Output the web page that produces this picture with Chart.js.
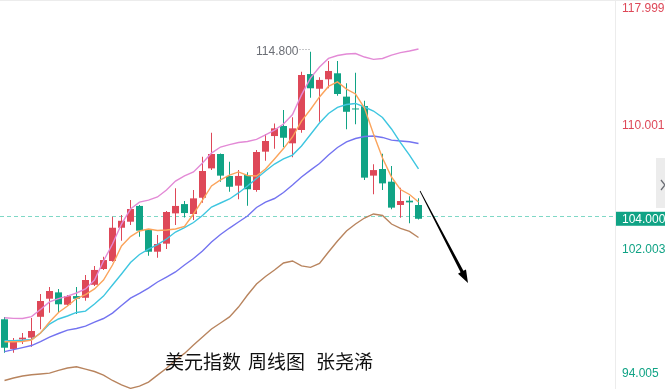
<!DOCTYPE html>
<html>
<head>
<meta charset="utf-8">
<script src="https://cdn.jsdelivr.net/npm/chart.js@4.4.1/dist/chart.umd.min.js"></script>
<style>
  html, body { margin: 0; padding: 0; background: #fff; }
  #wrap { width: 665px; height: 389px; }
</style>
</head>
<body>
<div id="wrap"><canvas id="chart" width="665" height="389"></canvas></div>
<script>
// weekly candles (oldest -> newest)
const opens = [97.50, 95.58, 96.20, 96.31, 97.66, 98.83, 99.24, 98.44, 99.00, 98.89,
  99.73, 100.75, 101.27, 103.42, 103.81, 104.83, 103.27, 101.87, 102.39, 104.35,
  104.95, 104.31, 105.36, 107.26, 108.19, 106.77, 106.14, 106.83, 105.86, 108.34,
  109.35, 110.00, 108.88, 109.74, 113.36, 112.41, 113.02, 113.41, 111.90, 111.13,
  111.29, 106.79, 107.22, 106.40, 104.89, 105.17, 104.89];
const highs = [97.65, 96.29, 96.61, 97.58, 99.13, 99.59, 99.46, 99.07, 99.59, 100.36,
  100.94, 101.55, 104.13, 104.24, 105.21, 104.89, 103.34, 102.95, 104.50, 105.97,
  105.15, 105.86, 108.01, 109.57, 108.22, 107.69, 107.15, 107.01, 108.45, 109.48,
  110.17, 111.03, 110.56, 113.51, 114.80, 113.15, 114.20, 114.20, 112.76, 113.45,
  111.64, 107.52, 108.21, 107.41, 106.01, 105.45, 105.32];
const lows = [95.34, 95.34, 95.90, 95.72, 96.85, 97.92, 97.92, 98.39, 97.84, 98.70,
  99.65, 100.69, 101.22, 102.58, 103.60, 102.84, 101.61, 101.48, 102.04, 103.60,
  104.09, 103.92, 105.04, 107.15, 106.40, 105.75, 105.26, 104.84, 105.75, 107.76,
  108.53, 108.62, 107.98, 109.57, 111.83, 110.28, 112.44, 111.96, 109.79, 110.11,
  106.51, 105.58, 105.86, 104.61, 104.07, 103.71, 103.95];
const closes = [95.66, 96.05, 96.31, 96.74, 98.68, 99.33, 98.47, 99.00, 98.83, 100.04,
  100.69, 101.33, 103.42, 103.87, 104.63, 103.23, 101.87, 102.37, 104.44, 104.83,
  104.37, 105.32, 107.09, 108.19, 106.79, 106.07, 106.77, 105.91, 108.32, 109.03,
  109.85, 109.24, 109.85, 113.30, 112.44, 112.98, 113.56, 112.07, 110.92, 111.07,
  106.66, 107.15, 106.29, 104.72, 105.15, 105.06, 104.00];

// indicator lines
const ma5 = [96.05, 96.05, 96.06, 96.16, 96.61, 97.32, 97.94, 98.36, 98.84, 99.10,
  99.46, 100.04, 101.01, 102.24, 102.85, 103.21, 103.34, 103.24, 103.27, 103.34,
  103.50, 104.31, 105.21, 106.12, 106.51, 106.83, 107.03, 106.80, 106.77, 107.22,
  107.87, 108.54, 109.29, 110.32, 111.07, 111.88, 112.56, 112.85, 112.39, 112.07,
  111.16, 109.48, 107.93, 106.70, 105.89, 105.57, 105.08];
const ma10 = [96.11, 96.12, 96.14, 96.19, 96.61, 97.19, 97.52, 97.71, 97.94, 98.03,
  98.49, 99.00, 99.72, 100.43, 101.17, 101.69, 102.04, 102.33, 102.69, 103.14,
  103.43, 103.76, 104.21, 104.76, 105.02, 105.28, 105.67, 106.12, 106.60, 107.09,
  107.54, 107.87, 108.12, 108.71, 109.45, 110.19, 110.81, 111.20, 111.39, 111.46,
  111.23, 110.97, 110.55, 109.81, 108.93, 108.12, 107.22];
const bollMid = [95.41, 95.54, 95.67, 95.80, 96.06, 96.35, 96.58, 96.80, 96.90, 97.06,
  97.32, 97.55, 97.90, 98.39, 98.87, 99.17, 99.52, 99.91, 100.23, 100.56,
  101.01, 101.43, 101.91, 102.50, 102.98, 103.40, 103.79, 104.18, 104.73, 105.08,
  105.31, 105.70, 106.18, 106.70, 107.15, 107.57, 108.12, 108.61, 108.97, 109.19,
  109.32, 109.35, 109.26, 109.09, 109.03, 108.98, 108.87];
const bollUpper = [97.60, 97.56, 97.55, 97.67, 98.13, 98.62, 98.84, 99.00, 99.20, 99.46,
  100.04, 101.27, 102.37, 103.66, 104.63, 105.08, 105.21, 105.41, 105.86, 106.44,
  106.77, 107.03, 107.61, 108.25, 108.64, 108.80, 108.93, 109.00, 109.13, 109.42,
  109.74, 110.13, 110.74, 112.01, 113.10, 113.82, 114.37, 114.56, 114.66, 114.69,
  114.46, 114.31, 114.37, 114.59, 114.75, 114.85, 114.98];
const bollLower = [93.54, 93.70, 93.83, 93.91, 93.96, 94.02, 94.19, 94.35, 94.43, 94.28,
  94.12, 93.89, 93.54, 93.25, 93.03, 93.18, 93.44, 93.89, 94.33, 94.87,
  95.29, 95.84, 96.35, 96.87, 97.26, 97.65, 98.29, 99.07, 99.78, 100.27,
  100.69, 101.14, 101.27, 100.95, 100.86, 101.11, 101.85, 102.56, 103.21, 103.66,
  104.05, 104.31, 104.21, 103.66, 103.38, 103.18, 102.79];

const axisTicks = [117.999, 110.001, 102.003, 94.005];
const lastPrice = 104.000;
const highLabel = '114.800';
const titleParts = ['美元指数', '周线图', '张尧浠'];

const RED = '#de4858';
const GREEN = '#10a385';

const idx = closes.map((_, i) => i);
const pts = arr => arr.map((v, i) => ({ x: i, y: v }));
const candleColors = idx.map(i => closes[i] >= opens[i] ? RED : GREEN);

function lineSet(data, color) {
  return {
    type: 'line',
    data: pts(data),
    borderColor: color,
    borderWidth: 1.4,
    pointRadius: 0,
    tension: 0,
    order: 0,
  };
}

const overlay = {
  id: 'overlay',
  beforeDatasetsDraw(chart) {
    const { ctx, chartArea, scales: { y } } = chart;
    const py = Math.round(y.getPixelForValue(lastPrice)) - 2.5;
    ctx.save();
    ctx.strokeStyle = '#7fd8c6';
    ctx.lineWidth = 1;
    ctx.setLineDash([4, 3]);
    ctx.beginPath();
    ctx.moveTo(chartArea.left, py);
    ctx.lineTo(chartArea.right, py);
    ctx.stroke();
    ctx.restore();
  },
  afterDraw(chart) {
    const { ctx, chartArea, scales: { x, y } } = chart;
    const W = chart.width, H = chart.height;
    ctx.save();

    // frame lines
    ctx.strokeStyle = '#ececec';
    ctx.lineWidth = 1;
    ctx.beginPath();
    ctx.moveTo(0, 0.5); ctx.lineTo(W, 0.5);
    ctx.moveTo(chartArea.right + 0.5, 0); ctx.lineTo(chartArea.right + 0.5, H);
    ctx.stroke();

    // collapse tab
    ctx.fillStyle = '#ececec';
    ctx.fillRect(656, 158, 9, 50);
    ctx.strokeStyle = '#6b6e75';
    ctx.lineWidth = 1.3;
    ctx.beginPath();
    ctx.moveTo(661, 180); ctx.lineTo(665, 185); ctx.lineTo(661, 190);
    ctx.stroke();

    // price axis labels
    ctx.font = '12px "Liberation Sans", Arial, sans-serif';
    ctx.textAlign = 'left';
    ctx.textBaseline = 'middle';
    axisTicks.forEach(v => {
      let py = y.getPixelForValue(v);
      py = Math.min(Math.max(py, 9), H - 9);
      ctx.fillStyle = v > lastPrice ? RED : GREEN;
      ctx.fillText(v.toFixed(3), chartArea.right + 7, py);
    });

    // last price box
    const ly = y.getPixelForValue(lastPrice);
    ctx.fillStyle = GREEN;
    ctx.fillRect(chartArea.right + 1, ly - 7, W - chartArea.right - 1, 14);
    ctx.fillStyle = '#ffffff';
    ctx.fillText(lastPrice.toFixed(3), chartArea.right + 7, ly + 0.5);

    // high marker
    const hi = highs.indexOf(Math.max(...highs));
    const hx = x.getPixelForValue(hi);
    const hy = y.getPixelForValue(highs[hi]);
    ctx.fillStyle = '#6b6e75';
    ctx.textAlign = 'right';
    ctx.fillText(highLabel, hx - 12, hy);
    ctx.strokeStyle = '#8a8d93';
    ctx.lineWidth = 1;
    ctx.setLineDash([1, 2]);
    ctx.beginPath();
    ctx.moveTo(hx - 11, Math.round(hy - 3) + 0.5);
    ctx.lineTo(hx - 1, Math.round(hy - 3) + 0.5);
    ctx.stroke();
    ctx.setLineDash([]);

    // trend arrow
    const x0 = x.getPixelForValue(46.17), y0 = y.getPixelForValue(105.80);
    const x1 = x.getPixelForValue(51.5), y1 = y.getPixelForValue(99.84);
    const len = Math.hypot(x1 - x0, y1 - y0);
    const ux = (x1 - x0) / len, uy = (y1 - y0) / len;
    const nx = -uy, ny = ux;
    const headLen = 13, headW = 4.5;
    const bx = x1 - ux * headLen, by = y1 - uy * headLen;
    ctx.fillStyle = '#000';
    ctx.beginPath();
    ctx.moveTo(x0 + nx * 0.4, y0 + ny * 0.4);
    ctx.lineTo(bx + nx * 1.6, by + ny * 1.6);
    ctx.lineTo(bx + nx * headW, by + ny * headW);
    ctx.lineTo(x1, y1);
    ctx.lineTo(bx - nx * headW, by - ny * headW);
    ctx.lineTo(bx - nx * 1.6, by - ny * 1.6);
    ctx.lineTo(x0 - nx * 0.4, y0 - ny * 0.4);
    ctx.closePath();
    ctx.fill();

    // caption
    ctx.fillStyle = '#111';
    ctx.font = '19px "Noto Sans CJK SC", sans-serif';
    ctx.textAlign = 'left';
    ctx.textBaseline = 'middle';
    [165, 248, 316].forEach((tx, k) => ctx.fillText(titleParts[k], tx, 362));

    ctx.restore();
  }
};

new Chart(document.getElementById('chart'), {
  type: 'bar',
  data: {
    datasets: [
      lineSet(bollUpper, '#e38ad6'),
      lineSet(ma5, '#fba45c'),
      lineSet(ma10, '#3ec6e0'),
      lineSet(bollMid, '#7373f0'),
      lineSet(bollLower, '#b8845e'),
      {
        type: 'bar',
        data: idx.map(i => ({ x: i, y: [opens[i], closes[i]] })),
        backgroundColor: candleColors,
        barThickness: 7,
        minBarLength: 1,
        grouped: false,
        inflateAmount: 0,
        order: 1,
      },
      {
        type: 'bar',
        data: idx.map(i => ({ x: i, y: [lows[i], highs[i]] })),
        backgroundColor: candleColors,
        barThickness: 1,
        grouped: false,
        inflateAmount: 0,
        order: 2,
      },
    ]
  },
  options: {
    responsive: false,
    animation: false,
    devicePixelRatio: 1,
    layout: { padding: { left: 0, right: 50, top: 0, bottom: 0 } },
    plugins: { legend: { display: false }, tooltip: { enabled: false } },
    scales: {
      x: { type: 'linear', offset: false, min: -0.5, max: -0.5 + 615 / 9, display: false },
      y: { min: 92.99, max: 118.15, display: false },
    },
  },
  plugins: [overlay],
});
</script>
</body>
</html>
